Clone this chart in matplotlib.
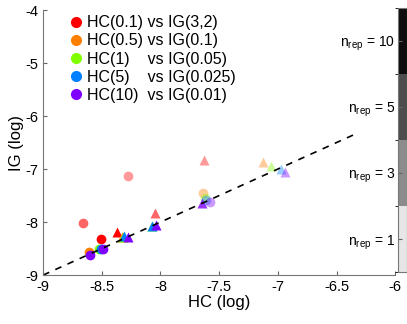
import matplotlib
matplotlib.use('Agg')
import matplotlib.pyplot as plt
from matplotlib.colors import ListedColormap, BoundaryNorm
from matplotlib.lines import Line2D
import matplotlib.colorbar as mcolorbar

plt.rcParams['font.family'] = ['Liberation Sans', 'DejaVu Sans']

labels = ['HC(0.1) vs IG(3,2)', 'HC(0.5) vs IG(0.1)', 'HC(1)    vs IG(0.05)',
          'HC(5)    vs IG(0.025)', 'HC(10)  vs IG(0.01)']
colors = ['#ff0000', '#ff8000', '#80ff00', '#0080ff', '#8000ff']

# alpha of each point encodes n_rep (1 -> light, 10 -> solid)
rep_alpha = {1: 0.4, 3: 0.6, 5: 0.8, 10: 1.0}

# circles: (HC, IG, n_rep)
circ = [
    [(-8.66, -8.02, 3), (-8.51, -8.31, 10), (-8.28, -7.13, 1)],
    [(-8.61, -8.56, 10), (-7.64, -7.45, 1)],
    [(-8.52, -8.50, 10), (-7.62, -7.55, 1)],
    [(-8.51, -8.50, 10), (-7.61, -7.58, 1)],
    [(-8.60, -8.62, 10), (-8.49, -8.50, 10), (-7.58, -7.63, 1)],
]
# triangles
tri = [
    [(-8.37, -8.18, 10), (-8.05, -7.82, 3), (-7.63, -6.82, 1)],
    [(-8.33, -8.28, 10), (-7.13, -6.86, 1)],
    [(-8.32, -8.28, 10), (-8.07, -8.08, 10), (-7.06, -6.94, 1)],
    [(-8.31, -8.27, 10), (-8.07, -8.07, 10), (-6.97, -7.00, 1)],
    [(-8.28, -8.29, 10), (-8.04, -8.06, 10), (-7.65, -7.64, 5), (-6.94, -7.05, 1)],
]

ref_line = [-9, -6.33]

cbar_grays = ['#e6e6e6', '#8c8c8c', '#4d4d4d', '#0d0d0d']
cbar_labels = ['$\\mathregular{n_{rep}}$ = 1', '$\\mathregular{n_{rep}}$ = 3',
               '$\\mathregular{n_{rep}}$ = 5', '$\\mathregular{n_{rep}}$ = 10']

fig = plt.figure(figsize=(4.07, 3.24), dpi=100)
ax = fig.add_axes([0.106, 0.151, 0.865, 0.818])

for i in range(5):
    for (x, y, n) in circ[i]:
        ax.plot(x, y, 'o', color=colors[i], alpha=rep_alpha[n], ms=7, mec='none')
    for (x, y, n) in tri[i]:
        ax.plot(x, y, '^', color=colors[i], alpha=rep_alpha[n], ms=7, mec='none')

ax.plot(ref_line, ref_line, '--', color='k', lw=1.2, dashes=(4, 4))

ax.set_xlim(-9, -6)
ax.set_ylim(-9, -4)
ax.set_xticks([-9, -8.5, -8, -7.5, -7, -6.5, -6])
ax.set_xticklabels(['-9', '-8.5', '-8', '-7.5', '-7', '-6.5', '-6'])
ax.set_yticks([-9, -8, -7, -6, -5, -4])
ax.set_yticklabels(['-9', '-8', '-7', '-6', '-5', '-4'])
ax.tick_params(direction='in', length=3, labelsize=10.5, color='#666666')
for s in ['top', 'right']:
    ax.spines[s].set_visible(False)
for s in ['left', 'bottom']:
    ax.spines[s].set_color('#777777')
ax.set_xlabel('HC (log)', fontsize=12, labelpad=1)
ax.set_ylabel('IG (log)', fontsize=12, labelpad=1)

handles = [Line2D([], [], marker='o', ls='none', color=c, ms=7) for c in colors]
ax.legend(handles, labels, loc='upper left', frameon=False, fontsize=11.5,
          handletextpad=0.1, labelspacing=0.2, handlelength=1.2,
          bbox_to_anchor=(0.025, 1.035))

cax = fig.add_axes([0.978, 0.160, 0.022, 0.815])
cmap = ListedColormap(cbar_grays)
norm = BoundaryNorm([0, 1, 2, 3, 4], 4)
cb = mcolorbar.ColorbarBase(cax, cmap=cmap, norm=norm)
cb.set_ticks([0.5, 1.5, 2.5, 3.5])
cb.set_ticklabels(cbar_labels)
cax.yaxis.set_ticks_position('left')
cax.tick_params(direction='in', length=3, labelsize=10, color='#666666', pad=2)
cb.outline.set_edgecolor('#777777')

fig.savefig('out.png', dpi=100)
